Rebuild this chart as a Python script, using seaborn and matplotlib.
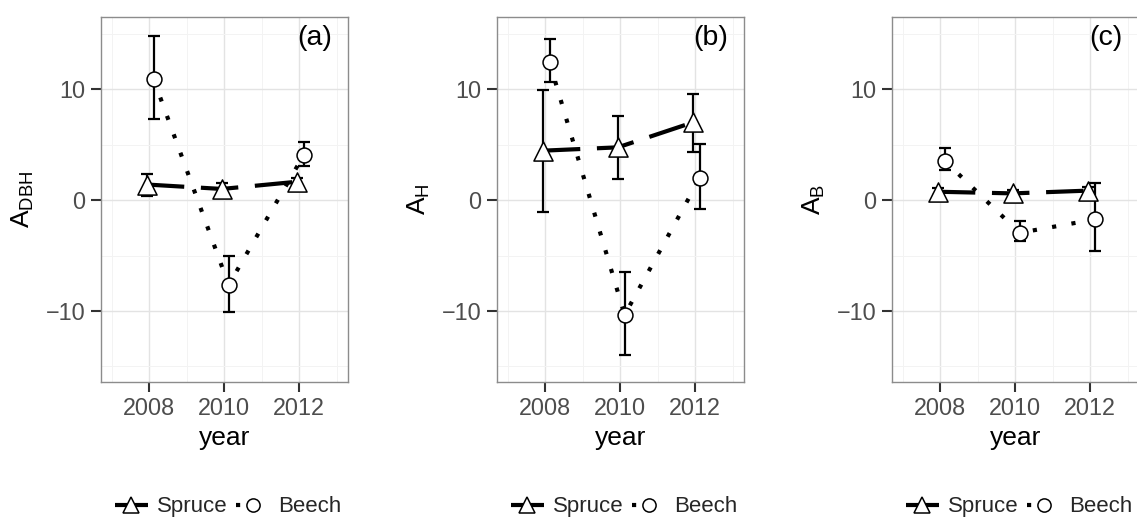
import matplotlib
matplotlib.use("Agg")
import matplotlib.pyplot as plt
import seaborn as sns
import pandas as pd
from matplotlib.lines import Line2D
from matplotlib.ticker import FixedLocator

# ---------------- data ----------------
years = [2008, 2010, 2012]
species = ["Spruce", "Beech"]
panel_labels = ["(a)", "(b)", "(c)"]
y_labels = [r"$\mathregular{A_{DBH}}$", r"$\mathregular{A_{H}}$", r"$\mathregular{A_{B}}$"]

spruce_dbh = [1.4, 1.0, 1.65]
spruce_dbh_lo = [0.4, 0.5, 1.3]
spruce_dbh_hi = [2.35, 1.5, 2.0]
beech_dbh = [10.9, -7.65, 4.05]
beech_dbh_lo = [7.3, -10.05, 3.1]
beech_dbh_hi = [14.8, -5.05, 5.25]

spruce_h = [4.45, 4.75, 7.0]
spruce_h_lo = [-1.1, 1.9, 4.3]
spruce_h_hi = [9.9, 7.55, 9.55]
beech_h = [12.4, -10.35, 1.95]
beech_h_lo = [10.65, -14.0, -0.85]
beech_h_hi = [14.5, -6.5, 5.05]

spruce_b = [0.75, 0.6, 0.85]
spruce_b_lo = [0.45, 0.3, 0.5]
spruce_b_hi = [1.05, 0.9, 1.2]
beech_b = [3.55, -2.95, -1.75]
beech_b_lo = [2.7, -3.72, -4.6]
beech_b_hi = [4.7, -1.86, 1.5]

panels = [
    (spruce_dbh, spruce_dbh_lo, spruce_dbh_hi, beech_dbh, beech_dbh_lo, beech_dbh_hi),
    (spruce_h, spruce_h_lo, spruce_h_hi, beech_h, beech_h_lo, beech_h_hi),
    (spruce_b, spruce_b_lo, spruce_b_hi, beech_b, beech_b_lo, beech_b_hi),
]

# ---------------- style ----------------
sns.set_style("ticks")
plt.rcParams["font.family"] = ["Liberation Sans", "DejaVu Sans"]
plt.rcParams["axes.unicode_minus"] = True

dodge = {"Spruce": -0.06, "Beech": 0.12}
line_style = {"Spruce": (0, (9, 4)), "Beech": (0, (1, 3.7))}
marker = {"Spruce": "^", "Beech": "o"}
msize = {"Spruce": 190, "Beech": 115}

fig = plt.figure(figsize=(11.37, 5.21), dpi=100)
lefts = [101 / 1137, 497 / 1137, 892 / 1137]
W = 247 / 1137
B = (521 - 382) / 521
H = 365 / 521

for i, (s, slo, shi, b, blo, bhi) in enumerate(panels):
    ax = fig.add_axes([lefts[i], B, W, H])
    rows = []
    for sp, vals, lo, hi in (("Spruce", s, slo, shi), ("Beech", b, blo, bhi)):
        for yr, v, l, h in zip(years, vals, lo, hi):
            rows.append(dict(species=sp, year=yr, xpos=yr + dodge[sp], value=v, lo=l, hi=h))
    df = pd.DataFrame(rows)

    for sp in species:
        sub = df[df.species == sp]
        sns.lineplot(data=sub, x="xpos", y="value", color="black", linewidth=3,
                     linestyle=line_style[sp], ax=ax, legend=False, sort=True,
                     zorder=2)
        ax.errorbar(sub.xpos, sub.value,
                    yerr=[sub.value - sub.lo, sub.hi - sub.value],
                    fmt="none", ecolor="black", elinewidth=1.6, capsize=4,
                    capthick=1.6, zorder=3)
    for sp in species:
        sub = df[df.species == sp]
        sns.scatterplot(data=sub, x="xpos", y="value", marker=marker[sp],
                        s=msize[sp], color="white", edgecolor="black",
                        linewidth=1.1, ax=ax, legend=False, zorder=4)

    ax.set_xlim(2006.72, 2013.3)
    ax.set_ylim(-16.4, 16.5)
    ax.set_xticks(years)
    ax.set_yticks([-10, 0, 10])
    ax.xaxis.set_minor_locator(FixedLocator([2007, 2009, 2011, 2013]))
    ax.yaxis.set_minor_locator(FixedLocator([-15, -5, 5, 15]))
    ax.grid(which="major", color="#e3e3e3", linewidth=1.0)
    ax.grid(which="minor", color="#f3f3f3", linewidth=0.7)
    ax.set_axisbelow(True)
    ax.tick_params(which="major", length=7, width=1.5, color="#333333",
                   labelsize=16.8, labelcolor="#4d4d4d", pad=4)
    ax.tick_params(which="minor", length=0)
    for sp_ in ax.spines.values():
        sp_.set_color("#8c8c8c")
        sp_.set_linewidth(1.0)
    ax.set_xlabel("year", fontsize=19, color="black", labelpad=4)
    ax.set_ylabel(y_labels[i], fontsize=19, color="black")
    ax.yaxis.set_label_coords(-0.265, 0.5)
    ax.text(0.935, 0.942, panel_labels[i], transform=ax.transAxes,
            ha="right", va="center", fontsize=20.5, color="black")

    handles = [
        Line2D([0], [0], color="black", lw=3, linestyle=line_style["Spruce"],
               marker="^", markersize=11, markerfacecolor="white",
               markeredgecolor="black", markeredgewidth=1.1),
        Line2D([0], [0], color="black", lw=3, linestyle=line_style["Beech"],
               marker="o", markersize=9.5, markerfacecolor="white",
               markeredgecolor="black", markeredgewidth=1.1),
    ]
    ax.legend(handles, species, loc="center", bbox_to_anchor=(0.515, -0.342),
              ncol=2, frameon=False, fontsize=16, handlelength=1.5,
              handletextpad=0.4, columnspacing=0.4, borderaxespad=0)

fig.savefig("out.png", dpi=100)
